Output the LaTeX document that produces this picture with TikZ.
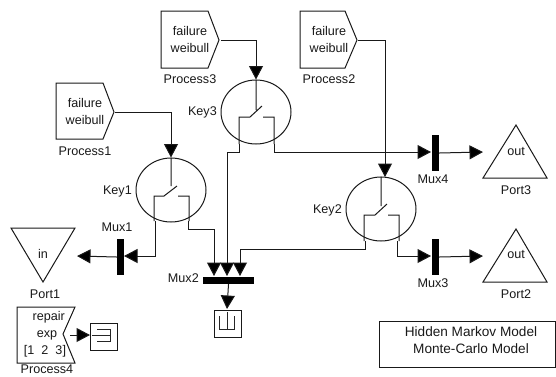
\documentclass[tikz,border=0pt]{standalone}
\usepackage{fontspec}
\setmainfont{Liberation Sans}
\usetikzlibrary{arrows.meta,shapes.geometric}
\tikzset{
  wire/.style={draw=black!90,line width=1pt,-{Triangle[length=13.5pt,width=14pt,fill=black]}},
  plain/.style={draw=black!90,line width=1pt},
  thin glyph/.style={draw=black!85,line width=0.8pt},
  blk/.style={draw=black!90,line width=1pt},
  bar/.style={fill=black,draw=none},
  lab/.style={inner sep=0pt,font=\fontsize{12.6}{17.2}\selectfont,text=black!90,align=center},
  notelab/.style={lab,font=\fontsize{13.6}{17}\selectfont},
  keyc/.style={draw=black!90,line width=1pt,ellipse,minimum width=70pt,minimum height=64pt}
}
\begin{document}
\begin{tikzpicture}[x=1pt,y=-1pt]
\useasboundingbox (0,0) rectangle (556,376);
% Sources
\draw[blk] (161,11)--(208,11)--(219,40)--(208,68)--(161,68)--cycle;
\coordinate (p3o) at (221,40);
\node[lab] (p3t) at (190,39.5) {failure\\weibull};
\node[lab] (p3l) at (190,79) {Process3};
\draw[blk] (56,83)--(103,83)--(114,112)--(103,139)--(56,139)--cycle;
\coordinate (p1o) at (115,112);
\node[lab] (p1t) at (85,111.5) {failure\\weibull};
\node[lab] (p1l) at (85,151) {Process1};
\draw[blk] (300,11)--(345,11)--(357,40)--(345,68)--(300,68)--cycle;
\coordinate (p2o) at (358,40);
\node[lab] (p2t) at (329,39.5) {failure\\weibull};
\node[lab] (p2l) at (329,79) {Process2};
% Keys
\node[keyc] (k3) at (256,112) {};
\node[keyc] (k1) at (171,190) {};
\node[keyc] (k2) at (381,209) {};
\node[lab,anchor=east] (k3l) at (217,112) {Key3};
\node[lab,anchor=east] (k1l) at (132,191) {Key1};
\node[lab,anchor=east] (k2l) at (342,210) {Key2};
% switch glyphs
\draw[plain] (k3.north)--(256,110) (262,106)--(250,117)--(239,117)--(239,144) (263,117)--(274,117)--(274,144);
\draw[plain] (k1.north)--(171,186) (177,186)--(164,196)--(154,196)--(154,221) (178,196)--(189,196)--(189,221);
\draw[plain] (k2.north)--(381,206) (387,204)--(375,215)--(364,215)--(364,241) (388,215)--(399,215)--(399,241);
% Mux bars
\node[bar,minimum width=7pt,minimum height=36pt,inner sep=0pt] (m1) at (120.5,257) {};
\node[bar,minimum width=51pt,minimum height=7pt,inner sep=0pt] (m2) at (228.5,280.5) {};
\node[bar,minimum width=7pt,minimum height=36pt,inner sep=0pt] (m3) at (435.5,257) {};
\node[bar,minimum width=7pt,minimum height=36pt,inner sep=0pt] (m4) at (435.5,153) {};
\node[lab] (m1l) at (117,227) {Mux1};
\node[lab,anchor=east] (m2l) at (199,278) {Mux2};
\node[lab] (m3l) at (433,283) {Mux3};
\node[lab] (m4l) at (433,179) {Mux4};
% Ports
\draw[blk] (11,228)--(75,228)--(43,282)--cycle;
\coordinate (port1) at (77,256);
\node[lab] (p1n) at (43,254) {in};
\node[lab] (port1l) at (45,294) {Port1};
\draw[blk] (516,229)--(547,282)--(483,282)--cycle;
\coordinate (port2) at (483,256);
\node[lab] (p2n) at (516,254) {out};
\node[lab] (port2l) at (516,294) {Port2};
\draw[blk] (516,125)--(547,178)--(483,178)--cycle;
\coordinate (port3) at (483,152);
\node[lab] (p3n) at (516,151) {out};
\node[lab] (port3l) at (516,190) {Port3};
% Process4
\draw[blk] (17,307)--(75,307)--(63,334)--(75,363)--(17,363)--cycle;
\node[lab,anchor=east] (r1) at (65,317) {repair};
\node[lab] (r2) at (47,335) {exp};
\node[lab] (r3) at (45,351) {[1\ \ 2\ \ 3]};
\node[lab,anchor=base] (p4l) at (47,373.5) {Process4};
\coordinate (p4o) at (70,335);
% Displays
\node[blk,draw,minimum width=27pt,minimum height=27pt,inner sep=0pt] (disp) at (103.5,336.5) {};
\draw[thin glyph] (92,335)--(110,335) (97,329)--(110,329)--(110,341)--(97,341);
\node[blk,draw,minimum width=27pt,minimum height=27pt,inner sep=0pt] (scope) at (228,323.5) {};
\draw[thin glyph] (219,316)--(219,329)--(234,329)--(234,316) (227,312)--(227,329);
% Text box
\draw[blk] (379,321)--(555.5,321)--(555.5,367)--(379,367)--cycle;
\node[notelab] (n1) at (471,332) {Hidden Markov Model};
\node[notelab] (n2) at (471,349) {Monte-Carlo Model};
% Wires
\coordinate (k3a) at (239,144); \coordinate (k3b) at (274,144);
\coordinate (k1a) at (155,221); \coordinate (k1b) at (188,221);
\coordinate (k2a) at (365,241); \coordinate (k2b) at (397,241);
\draw[wire] (p3o)-|(k3.north);
\draw[wire] (p1o)-|(k1.north);
\draw[wire] (p2o)-|(385,177);
\draw[wire] (k3b)--(274,152)--(431,152);
\draw[wire] (m4.east)--(port3);
\draw[wire] (k2b)--(397,256)--(431,256);
\draw[wire] (m3.east)--(port2);
\draw[wire] (k1a)--(155,256)--(124,256);
\draw[wire] (m1.west)--(port1);
\draw[wire] (k1b)--(188,229)--(214,229)--(214,276);
\draw[wire] (k3a)--(239,152)--(227,152)--(227,276);
\draw[wire] (k2a)--(365,249)--(240,249)--(240,276);
\draw[wire] (m2.south)--(227,309);
\draw[wire] (p4o)--(90,335);
\end{tikzpicture}
\end{document}
